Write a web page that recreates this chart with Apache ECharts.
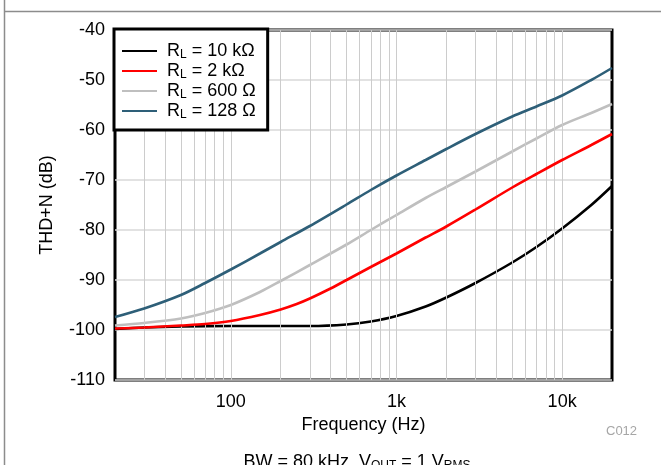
<!DOCTYPE html>
<html>
<head>
<meta charset="utf-8">
<script src="https://cdn.jsdelivr.net/npm/echarts@6/dist/echarts.min.js"></script>
<style>
html,body{margin:0;padding:0;background:#fff;}
#chart{width:661px;height:465px;}
</style>
</head>
<body>
<div id="chart"></div>
<script>
// ---- data (frequency Hz, THD+N dB) ----
var seriesNames = ['R_L = 10 kΩ', 'R_L = 2 kΩ', 'R_L = 600 Ω', 'R_L = 128 Ω'];
var legendLabels = ['10 kΩ', '2 kΩ', '600 Ω', '128 Ω'];
var rl10k = [[20,-99.8],[30,-99.5],[50,-99.3],[100,-99.2],[200,-99.2],[300,-99.2],[500,-98.9],[700,-98.3],[1000,-97.2],[1500,-95.3],[2000,-93.5],[3000,-90.6],[5000,-86.5],[7000,-83.4],[10000,-79.7],[15000,-75.0],[20000,-71.2]];
var rl2k = [[20,-99.7],[30,-99.5],[50,-99.1],[70,-98.8],[100,-98.2],[150,-97.0],[200,-95.9],[250,-94.8],[300,-93.7],[400,-91.7],[500,-90.0],[700,-87.4],[1000,-84.7],[1500,-81.5],[2000,-79.3],[3000,-75.9],[5000,-71.5],[7000,-68.8],[10000,-66.0],[15000,-63.0],[20000,-60.8]];
var rl600 = [[20,-99.1],[30,-98.6],[50,-97.7],[70,-96.6],[100,-95.0],[150,-92.4],[200,-90.2],[300,-87.0],[500,-82.9],[700,-80.0],[1000,-77.0],[1500,-73.6],[2000,-71.4],[3000,-68.3],[5000,-64.3],[7000,-61.7],[10000,-59.0],[15000,-56.6],[20000,-54.8]];
var rl128 = [[20,-97.4],[30,-95.7],[50,-93.0],[70,-90.6],[100,-87.9],[150,-84.7],[200,-82.4],[300,-79.2],[500,-74.9],[700,-72.0],[1000,-69.1],[1500,-66.0],[2000,-63.8],[3000,-60.8],[5000,-57.3],[7000,-55.3],[10000,-53.1],[15000,-50.0],[20000,-47.6]];
var gridFreqs = [30,40,50,60,70,80,90,100,200,300,400,500,600,700,800,900,1000,2000,3000,4000,5000,6000,7000,8000,9000,10000];
var xTickLabels = {100:'100', 1000:'1k', 10000:'10k'};
var yMin = -110, yMax = -40, yStep = 10;
var xMin = 20, xMax = 20000;

var colors = ['#000000', '#ff0000', '#bfbfbf', '#2e5f78'];
var font = 'Liberation Sans, Arial, Helvetica, sans-serif';

var chart = echarts.init(document.getElementById('chart'), null, {renderer:'canvas'});

function mkSeries(name, data, color, z) {
  return {
    name: name, type: 'line', data: data, smooth: 0.3, symbol: 'none',
    z: z, lineStyle: {color: color, width: 2.6}, itemStyle: {color: color}
  };
}

var series = [
  mkSeries(seriesNames[0], rl10k, colors[0], 3),
  mkSeries(seriesNames[2], rl600, colors[2], 4),
  mkSeries(seriesNames[1], rl2k, colors[1], 5),
  mkSeries(seriesNames[3], rl128, colors[3], 6),
  {
    type: 'line', data: [], silent: true, z: 1,
    markLine: {
      silent: true, symbol: ['none','none'], animation: false,
      label: {show: false},
      lineStyle: {color: '#cccccc', width: 1, type: 'solid'},
      data: gridFreqs.map(function(f){ return {xAxis: f}; })
    }
  }
];

var option = {
  animation: false,
  textStyle: {fontFamily: font},
  grid: {left: 115, right: 49, top: 30, bottom: 85, show: true, borderColor: '#000', borderWidth: 3, backgroundColor: 'transparent'},
  xAxis: {
    type: 'log', logBase: 10, min: xMin, max: xMax,
    name: 'Frequency (Hz)', nameLocation: 'middle', nameGap: 33,
    nameTextStyle: {fontSize: 18, color: '#000', fontFamily: font},
    axisLine: {show: false}, axisTick: {show: false},
    splitLine: {show: false},
    axisLabel: {
      fontSize: 18, color: '#000', margin: 13, fontFamily: font, showMinLabel: true, showMaxLabel: true,
      formatter: function(v){ var r = Math.round(v); return xTickLabels[r] || ''; }
    }
  },
  yAxis: {
    type: 'value', min: yMin, max: yMax, interval: yStep,
    name: 'THD+N (dB)', nameLocation: 'middle', nameGap: 59,
    nameTextStyle: {fontSize: 18, color: '#000', fontFamily: font},
    axisLine: {show: false}, axisTick: {show: false},
    splitLine: {show: true, lineStyle: {color: '#d9d9d9', width: 1.5}},
    axisLabel: {fontSize: 18, color: '#000', margin: 10, fontFamily: font}
  },
  legend: {
    orient: 'vertical', left: 114, top: 29,
    data: [seriesNames[0], seriesNames[1], seriesNames[2], seriesNames[3]],
    backgroundColor: '#fff', borderColor: '#000', borderWidth: 3,
    padding: [12, 12, 9, 8], itemGap: 0, itemWidth: 35, itemHeight: 20,
    icon: 'path://M0,9 L35,9 L35,11 L0,11 Z',
    textStyle: {
      fontFamily: font, fontSize: 18, color: '#000', padding: [0,0,0,5],
      rich: {
        a: {fontSize: 18, fontFamily: font, color: '#000', lineHeight: 20},
        s: {fontSize: 12, fontFamily: font, color: '#000', lineHeight: 20, padding: [8,0,0,0]}
      }
    },
    formatter: function(name){
      var i = seriesNames.indexOf(name);
      return '{a|R}{s|L}{a| = ' + legendLabels[i] + '}';
    },
    z: 10
  },
  graphic: [
    {type: 'line', shape: {x1: 4.5, y1: 0, x2: 4.5, y2: 465}, style: {stroke: '#8c8c8c', lineWidth: 1.5}, silent: true},
    {type: 'line', shape: {x1: 4, y1: 11.5, x2: 661, y2: 11.5}, style: {stroke: '#8c8c8c', lineWidth: 1.5}, silent: true},
    {type: 'text', left: 606, top: 425, style: {text: 'C012', fill: '#a6a6a6', font: '13px ' + font}, silent: true},
    {type: 'text', x: 357, y: 452, style: {
      text: '{a|BW = 80 kHz, V}{s|OUT}{a| = 1 V}{s|RMS}', textAlign: 'center', textVerticalAlign: 'top',
      rich: {a: {fontSize: 18, fontFamily: font, fill: '#000', lineHeight: 20}, s: {fontSize: 12, fontFamily: font, fill: '#000', lineHeight: 20, padding: [8,0,0,0]}}
    }, silent: true}
  ],
  series: series
};
chart.setOption(option);
</script>
</body>
</html>
